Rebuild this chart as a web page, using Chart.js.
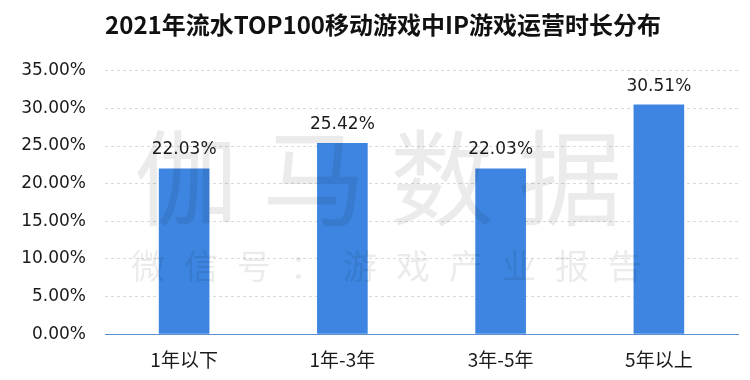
<!DOCTYPE html>
<html><head><meta charset="utf-8">
<script src="https://cdn.jsdelivr.net/npm/chart.js@4/dist/chart.umd.min.js"></script>
<style>html,body{margin:0;padding:0;background:#fff}#wrap{width:750px;height:380px}</style>
</head><body><div id="wrap"><canvas id="c" width="750" height="380"></canvas></div>
<script>
const titleText = '2021年流水TOP100移动游戏中IP游戏运营时长分布';
const categories = ['1年以下', '1年-3年', '3年-5年', '5年以上'];
const values = [22.03, 25.42, 22.03, 30.51];
const yMax = 35, yStep = 5;
const FONT = '"Noto Sans CJK SC", "Noto Sans", sans-serif';
const NUMFONT = '"DejaVu Sans", "Noto Sans CJK SC", sans-serif';

const labelsPlugin = {
  id: 'vlabels',
  afterDatasetsDraw(chart) {
    const ctx = chart.ctx;
    const meta = chart.getDatasetMeta(0);
    ctx.save();
    ctx.font = '17px ' + NUMFONT;
    ctx.fillStyle = '#1a1a1a';
    ctx.textAlign = 'center';
    ctx.textBaseline = 'alphabetic';
    meta.data.forEach((el, i) => {
      ctx.fillText(values[i].toFixed(2) + '%', el.x, el.y - 14);
    });
    ctx.restore();
  }
};
const watermark = {
  id: 'wm',
  afterDraw(chart) {
    const ctx = chart.ctx;
    ctx.save();
    ctx.fillStyle = 'rgba(0,0,0,0.08)';
    ctx.textAlign = 'center';
    ctx.textBaseline = 'middle';
    ctx.font = '104px ' + FONT;
    if ('letterSpacing' in ctx) ctx.letterSpacing = '24px';
    ctx.fillText('伽马数据', 390, 178);
    ctx.font = '34px ' + FONT;
    if ('letterSpacing' in ctx) ctx.letterSpacing = '19px';
    ctx.fillText('微信号：游戏产业报告', 396, 266);
    ctx.restore();
  }
};
const titleShift = {
  id: 'titleShift',
  afterLayout(chart) {
    if (chart.titleBlock) chart.titleBlock.left += 28;
  }
};

new Chart(document.getElementById('c'), {
  type: 'bar',
  data: {
    labels: categories,
    datasets: [{
      data: values,
      backgroundColor: '#3d85e0',
      barPercentage: 0.32,
      categoryPercentage: 1.0
    }]
  },
  options: {
    responsive: false,
    animation: false,
    layout: { padding: { left: 0, right: 12, bottom: 3 } },
    plugins: {
      legend: { display: false },
      tooltip: { enabled: false },
      title: {
        display: true,
        text: titleText,
        color: '#111',
        font: { family: FONT, size: 24, weight: 'bold' },
        padding: { top: 10, bottom: 32 }
      }
    },
    scales: {
      x: {
        grid: { display: false },
        border: { color: '#5a8fd0', width: 1 },
        ticks: { color: '#1a1a1a', font: { family: FONT, size: 19 }, padding: 6 }
      },
      y: {
        min: 0, max: yMax,
        afterFit(s) { s.width = 105; },
        border: { display: false, dash: [3, 3] },
        grid: { color: '#d9d9d9', drawTicks: false },
        ticks: {
          stepSize: yStep,
          color: '#1a1a1a',
          font: { family: NUMFONT, size: 17 },
          padding: 19,
          callback: v => v.toFixed(2) + '%'
        }
      }
    }
  },
  plugins: [labelsPlugin, watermark, titleShift]
});
</script></body></html>
